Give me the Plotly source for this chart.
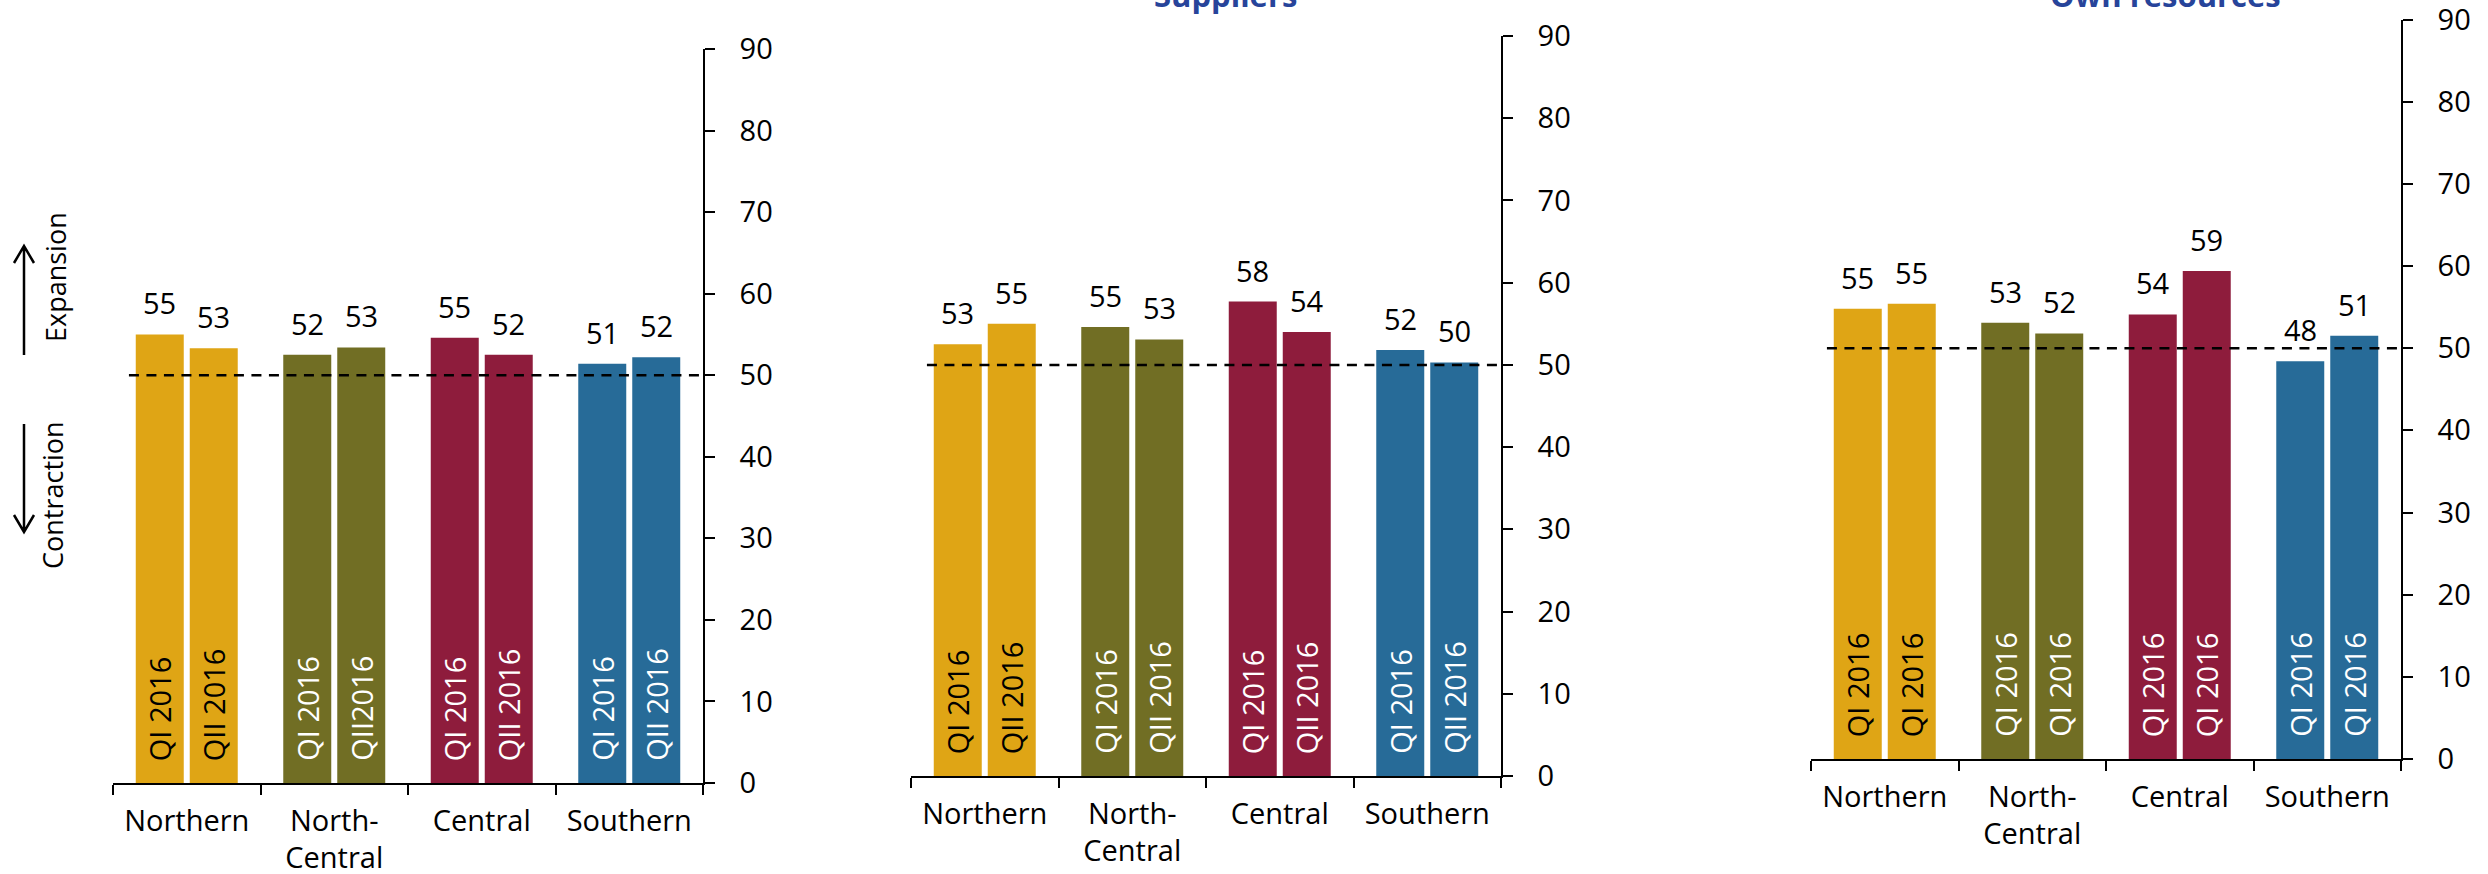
import plotly.graph_objects as go

# ---------------- data ----------------
REGIONS = ["Northern", "North-<br>Central", "Central", "Southern"]
REGION_COLORS = ["#DFA515", "#716E24", "#8E1C3C", "#276B98"]
INSIDE_TEXT_COLORS = ["black", "white", "white", "white"]

PANEL_TITLES = ["", "Suppliers", "Own resources"]

# panel 1
P1_Q1 = [55.0, 52.5, 54.6, 51.4]
P1_Q2 = [53.3, 53.4, 52.5, 52.2]
P1_Q1_LABELS = ["55", "52", "55", "51"]
P1_Q2_LABELS = ["53", "53", "52", "52"]
P1_Q1_NAMES = ["QI 2016", "QI 2016", "QI 2016", "QI 2016"]
P1_Q2_NAMES = ["QII 2016", "QII2016", "QII 2016", "QII 2016"]

# panel 2 - Suppliers
P2_Q1 = [52.5, 54.6, 57.7, 51.8]
P2_Q2 = [55.0, 53.1, 54.0, 50.3]
P2_Q1_LABELS = ["53", "55", "58", "52"]
P2_Q2_LABELS = ["55", "53", "54", "50"]
P2_Q1_NAMES = ["QI 2016", "QI 2016", "QI 2016", "QI 2016"]
P2_Q2_NAMES = ["QII 2016", "QII 2016", "QII 2016", "QII 2016"]

# panel 3 - Own resources
P3_Q1 = [54.8, 53.1, 54.1, 48.4]
P3_Q2 = [55.4, 51.8, 59.4, 51.5]
P3_Q1_LABELS = ["55", "53", "54", "48"]
P3_Q2_LABELS = ["55", "52", "59", "51"]
P3_Q1_NAMES = ["QI 2016", "QI 2016", "QI 2016", "QI 2016"]
P3_Q2_NAMES = ["QI 2016", "QI 2016", "QI 2016", "QI 2016"]

THRESHOLD = 50
Y_TICKS = [0, 10, 20, 30, 40, 50, 60, 70, 80, 90]

# ---------------- layout constants ----------------
W, H = 2488, 874
FONT = "Open Sans"
FS = 29
BARGAP = 0.268
BARGROUPGAP = 0.111
OFFSET = (1 - BARGAP) / 4  # centre offset of each bar in a group


def px_x(px):
    return px / W


def px_y(py):
    return 1 - py / H


# panel plot areas in pixels: (left, right, top(90), bottom(0))
PANELS_PX = [
    (113, 703, 49, 783),
    (911, 1501, 36, 776),
    (1811, 2401, 19.5, 759),
]
TITLE_CENTERS_PX = [None, 1225, 2165]

panels = [
    (P1_Q1, P1_Q2, P1_Q1_LABELS, P1_Q2_LABELS, P1_Q1_NAMES, P1_Q2_NAMES),
    (P2_Q1, P2_Q2, P2_Q1_LABELS, P2_Q2_LABELS, P2_Q1_NAMES, P2_Q2_NAMES),
    (P3_Q1, P3_Q2, P3_Q1_LABELS, P3_Q2_LABELS, P3_Q1_NAMES, P3_Q2_NAMES),
]

fig = go.Figure()
annotations = []
shapes = []
layout_axes = {}

for p, (q1, q2, l1, l2, n1, n2) in enumerate(panels):
    idx = "" if p == 0 else str(p + 1)
    xa, ya = "x" + idx, "y" + idx
    for vals in (q1, q2):
        fig.add_trace(go.Bar(
            x=REGIONS, y=vals, xaxis=xa, yaxis=ya,
            marker=dict(color=REGION_COLORS, line=dict(width=0)),
            showlegend=False, hoverinfo="skip",
        ))
    left, right, top, bottom = PANELS_PX[p]
    layout_axes["xaxis" + idx] = dict(
        domain=[px_x(left), px_x(right)], anchor=ya, type="category",
        categoryorder="array", categoryarray=REGIONS,
        range=[-0.5, 3.5], automargin=False, ticklabeloverflow="allow",
        showline=True, linecolor="black", linewidth=1.5,
        ticks="outside", tickson="boundaries", ticklen=10, tickwidth=1.5,
        tickcolor="black", showgrid=False, zeroline=False,
        tickfont=dict(family=FONT, size=FS, color="black"),
        ticklabelstandoff=11,
        fixedrange=True,
    )
    layout_axes["yaxis" + idx] = dict(
        domain=[px_y(bottom), px_y(top)], anchor=xa, side="right",
        range=[0, 90], tickvals=Y_TICKS, automargin=False,
        ticklabeloverflow="allow",
        showline=True, linecolor="black", linewidth=1.5,
        ticks="outside", ticklen=10, tickwidth=1.5, tickcolor="black",
        showgrid=False, zeroline=False,
        tickfont=dict(family=FONT, size=FS, color="black"),
        ticklabelstandoff=19,
        fixedrange=True,
    )
    # threshold dashed line
    shapes.append(dict(
        type="line", xref=xa + " domain", yref=ya,
        x0=0.027, x1=1, y0=THRESHOLD, y1=THRESHOLD,
        line=dict(color="black", width=2.5, dash="10px,7.5px"),
    ))
    # labels
    for i in range(len(REGIONS)):
        for sign, vals, labs, names in ((-1, q1, l1, n1), (1, q2, l2, n2)):
            xpos = i + sign * OFFSET
            annotations.append(dict(
                x=xpos, y=vals[i], xref=xa, yref=ya,
                text=labs[i], showarrow=False, yanchor="bottom",
                xanchor="center", yshift=10,
                font=dict(family=FONT, size=FS, color="black"),
            ))
            annotations.append(dict(
                x=xpos, y=0, xref=xa, yref=ya,
                text=names[i], showarrow=False, yanchor="bottom",
                xanchor="center", textangle=-90, yshift=20,
                font=dict(family=FONT, size=FS, color=INSIDE_TEXT_COLORS[i]),
            ))
    # panel title (mostly cut off above the page, as in the source)
    if PANEL_TITLES[p]:
        annotations.append(dict(
            x=px_x(TITLE_CENTERS_PX[p]),
            y=px_y(-5), xref="paper", yref="paper",
            text="<b>" + PANEL_TITLES[p] + "</b>", showarrow=False,
            yanchor="middle", xanchor="center",
            font=dict(family=FONT, size=31, color="#27449A"),
        ))

# Expansion / Contraction side notes
annotations.append(dict(
    x=px_x(56), y=px_y(277), xref="paper", yref="paper",
    xanchor="center", yanchor="middle",
    text="Expansion", textangle=-90, showarrow=False,
    font=dict(family=FONT, size=27, color="black"),
))
annotations.append(dict(
    x=px_x(52), y=px_y(495), xref="paper", yref="paper",
    xanchor="center", yanchor="middle",
    text="Contraction", textangle=-90, showarrow=False,
    font=dict(family=FONT, size=27, color="black"),
))


def path(points_list):
    parts = []
    for pts in points_list:
        s = "M {} {}".format(px_x(pts[0][0]), px_y(pts[0][1]))
        for (a, b) in pts[1:]:
            s += " L {} {}".format(px_x(a), px_y(b))
        parts.append(s)
    return " ".join(parts)


arrow_line = dict(color="black", width=2.5)
shapes.append(dict(type="path", xref="paper", yref="paper", line=arrow_line,
                   path=path([[(24, 355), (24, 246)], [(14, 263), (24, 246), (34, 263)]])))
shapes.append(dict(type="path", xref="paper", yref="paper", line=arrow_line,
                   path=path([[(24, 424), (24, 532)], [(14, 515), (24, 532), (34, 515)]])))

fig.update_layout(
    width=W, height=H, margin=dict(l=0, r=0, t=0, b=0, autoexpand=False),
    paper_bgcolor="white", plot_bgcolor="white",
    barmode="group", bargap=BARGAP, bargroupgap=BARGROUPGAP,
    showlegend=False, annotations=annotations, shapes=shapes,
    **layout_axes,
)

fig.write_html("out.html")
